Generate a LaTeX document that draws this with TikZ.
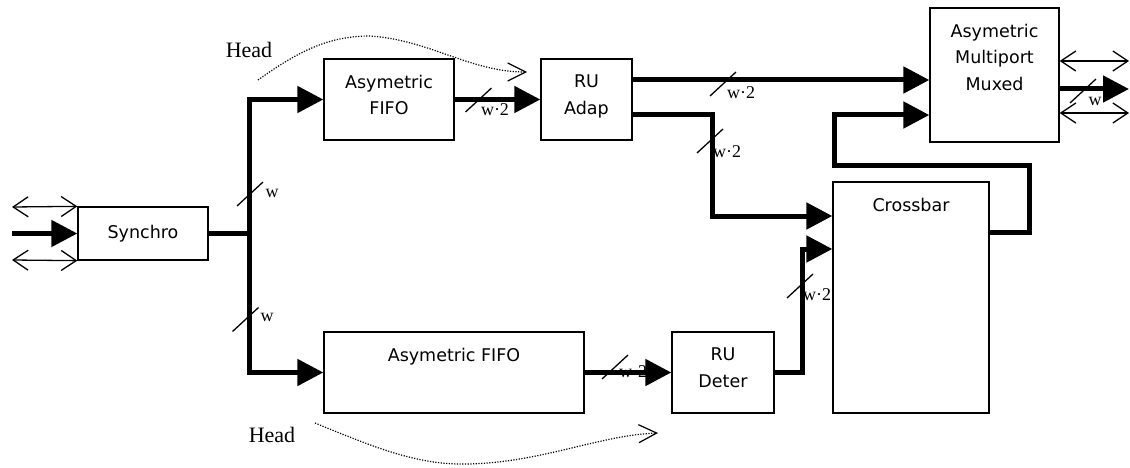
\documentclass[tikz,border=0pt]{standalone}
\usepackage{fontspec}
\setmainfont{Liberation Serif}
\newfontfamily\boxfont{DejaVu Sans}
\usetikzlibrary{arrows.meta,positioning}

\begin{document}
\begin{tikzpicture}[x=1pt,y=-1pt,line join=miter,
		blk/.style={draw,line width=1.3pt,inner sep=0pt},
		blktext/.style={font=\boxfont\fontsize{17.5}{26.5}\selectfont,align=center,inner sep=0pt},
		busline/.style={line width=5pt},
		bus/.style={busline,-{Triangle[length=26pt,width=26pt]}},
		wire/.style={line width=1.3pt,{Straight Barb[length=15pt,width=20pt]}-{Straight Barb[length=15pt,width=20pt]}},
		slash/.style={line width=1.3pt},
		wlbl/.style={font=\fontsize{18}{18}\selectfont,inner sep=0pt},
		head/.style={line width=1.2pt,dash pattern=on 1.2pt off 1.5pt,-{Straight Barb[length=18pt,width=18pt,line width=1.2pt]}},
		headlbl/.style={font=\fontsize{22}{22}\selectfont,inner sep=0pt}]
	\useasboundingbox (0,0) rectangle (1130,468);

	\node[blk,blktext,minimum width=130pt,minimum height=53pt] (synchro) at (143,233.5) {Synchro};
	\node[blk,minimum width=130pt,minimum height=81pt] (fifoA) at (389,99.5) {};
	\node[blktext,below=16.5pt of fifoA.north] (fifoAt) {Asymetric\\FIFO};
	\node[blk,minimum width=91pt,minimum height=81pt] (ruadap) at (586.5,99.5) {};
	\node[blktext,below=16.5pt of ruadap.north] (ruadapt) {RU\\Adap};
	\node[blk,minimum width=129pt,minimum height=134pt] (muxed) at (994.5,75) {};
	\node[blktext,below=16.5pt of muxed.north] (muxedt) {Asymetric\\Multiport\\Muxed};
	\node[blk,minimum width=156pt,minimum height=231pt] (xbar) at (911,297.5) {};
	\node[blktext,below=16.5pt of xbar.north] (xbart) {Crossbar};
	\node[blk,minimum width=260pt,minimum height=81pt] (fifoB) at (454,372.5) {};
	\node[blktext,below=16.5pt of fifoB.north] (fifoBt) {Asymetric FIFO};
	\node[blk,minimum width=102pt,minimum height=81pt] (rudeter) at (723,372.5) {};
	\node[blktext,below=16.5pt of rudeter.north] (rudetert) {RU\\Deter};

	\coordinate (inW) at (12,233.5);
	\coordinate (inN) at (12,207);
	\coordinate (inS) at (12,260);
	\coordinate (jn) at (249,233.5);
	\coordinate (adapHi) at ([yshift=19.5pt]ruadap.east);
	\coordinate (adapLo) at ([yshift=-15.5pt]ruadap.east);
	\coordinate (bendA) at (712,216);
	\coordinate (xbarA) at (xbar.west |- bendA);
	\coordinate (bendB) at (802,249);
	\coordinate (xbarB) at (xbar.west |- bendB);
	\coordinate (xbarOut) at ([yshift=-51pt]xbar.north east);
	\coordinate (loopR) at (1029,166);
	\coordinate (loopL) at (834,115);
	\coordinate (muxLo) at (muxed.west |- loopL);
	\coordinate (muxOut) at ([yshift=-14pt]muxed.east);
	\coordinate (outE) at (1129,89);
	\coordinate (outN) at (1129,61);
	\coordinate (outS) at (1129,113);

	\draw[bus] (inW) -- (synchro.west);
	\draw[wire] (inN) -- (synchro.north west);
	\draw[wire] (inS) -- (synchro.south west);
	\draw[busline] (synchro.east) -- (jn);
	\draw[bus] (jn) |- (fifoA.west);
	\draw[bus] (jn) |- (fifoB.west);
	\draw[bus] (fifoA.east) -- (ruadap.west);
	\draw[bus] (adapHi) -- (adapHi -| muxed.west);
	\draw[bus] (adapLo) -| (bendA) -- (xbarA);
	\draw[bus] (fifoB.east) -- (rudeter.west);
	\draw[bus] (rudeter.east) -| (bendB) -- (xbarB);
	\draw[bus] (xbarOut) -| (loopR) -| (loopL) -- (muxLo);
	\draw[bus] (muxOut) -- (outE);
	\draw[wire] (muxed.east |- outN) -- (outN);
	\draw[wire] (muxed.east |- outS) -- (outS);

	\draw[slash] (250,194) +(-13,12) -- +(13,-12);
	\node[wlbl] (wA) at (272,193) {w};
	\draw[slash] (245.5,319.5) +(-13,12) -- +(13,-12);
	\node[wlbl] (wB) at (267,317) {w};
	\draw[slash] (478.5,100) +(-13,12) -- +(13,-12);
	\node[wlbl] (wC) at (495,110) {w·2};
	\draw[slash] (723,84) +(-13,12) -- +(13,-12);
	\node[wlbl] (wD) at (741,93) {w·2};
	\draw[slash] (710,141) +(-13,12) -- +(13,-12);
	\node[wlbl] (wE) at (727,152) {w·2};
	\draw[slash] (615,367) +(-13,12) -- +(13,-12);
	\node[wlbl] (wF) at (633,372) {w·2};
	\draw[slash] (800,286) +(-13,12) -- +(13,-12);
	\node[wlbl] (wG) at (817,295) {w·2};
	\draw[slash] (1083,91) +(-13,12) -- +(13,-12);
	\node[wlbl] (wH) at (1095,101) {w};

	\node[headlbl] (headA) at (249,50) {Head};
	\coordinate (hA1) at (258,80);
	\coordinate (hA2) at (527,72);
	\draw[head] (hA1) .. controls (300,50) and (330,36) .. (370,36) .. controls (430,40) and (470,72) .. (hA2);
	\node[headlbl] (headB) at (272,435) {Head};
	\coordinate (hB1) at (315,423);
	\coordinate (hB2) at (658,433);
	\draw[head] (hB1) .. controls (380,450) and (420,465) .. (467,464) .. controls (540,463) and (600,435) .. (hB2);
\end{tikzpicture}
\end{document}
